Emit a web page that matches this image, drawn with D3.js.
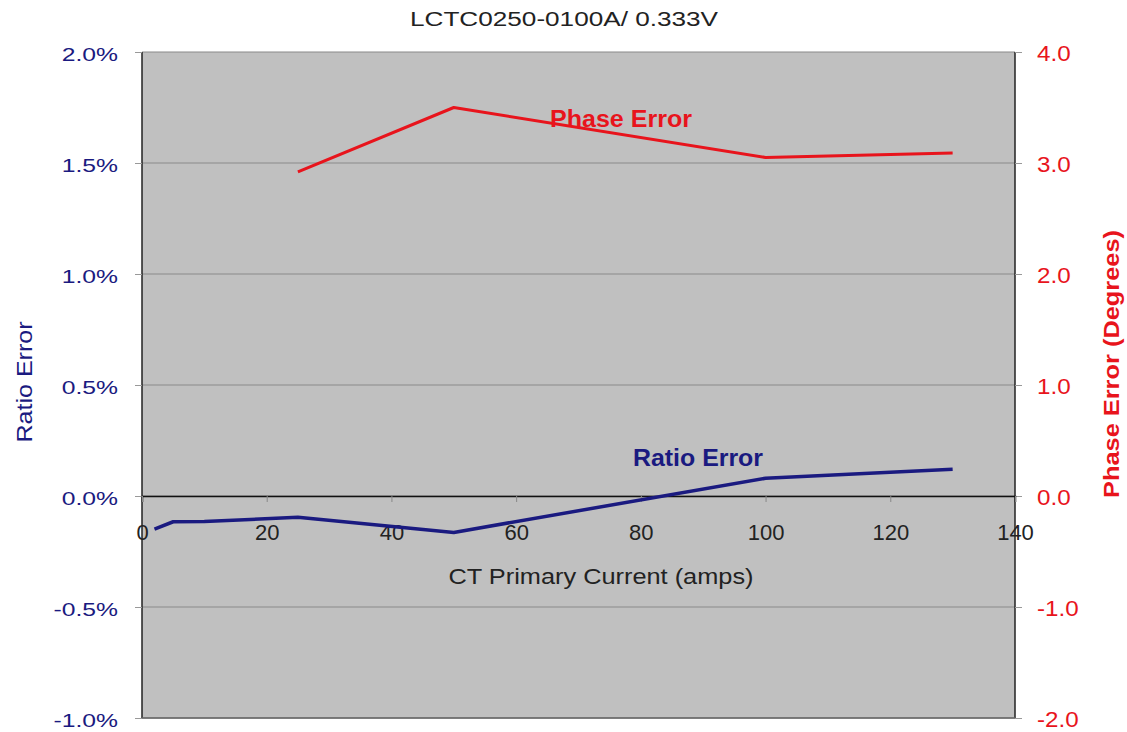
<!DOCTYPE html>
<html><head><meta charset="utf-8">
<script src="https://cdn.jsdelivr.net/npm/d3@7"></script>
<style>body{margin:0;background:#fff;} svg{display:block;font-family:"Liberation Sans",Arial,sans-serif;}</style>
</head><body>
<svg id="c" width="1127" height="732"></svg>
<script>
const title = "LCTC0250-0100A/ 0.333V";
const ratioX = [2, 5, 10, 25, 50, 100, 130];
const ratioY = [-0.149, -0.116, -0.115, -0.096, -0.164, 0.080, 0.120];
const phaseX = [25, 50, 100, 130];
const phaseY = [2.92, 3.50, 3.05, 3.09];
const xTicks = [0, 20, 40, 60, 80, 100, 120, 140];
const leftTicks = [-1.0, -0.5, 0.0, 0.5, 1.0, 1.5, 2.0];
const rightTicks = [-2, -1, 0, 1, 2, 3, 4];

const FF = "Liberation Sans, Arial, sans-serif";
const svg = d3.select("#c");
const L = 142, R = 1015, T = 52, B = 718;
const x = d3.scaleLinear().domain([0, 140]).range([L, R]);
const yL = d3.scaleLinear().domain([-1, 2]).range([B, T]);
const yR = d3.scaleLinear().domain([-2, 4]).range([B, T]);
const navy = "#1a1a80", red = "#e8141c";

function stretch(sel, f) {
  sel.each(function () {
    const w = this.getComputedTextLength();
    d3.select(this).attr("textLength", w * f).attr("lengthAdjust", "spacingAndGlyphs");
  });
}
function fit(sel, w) {
  sel.attr("textLength", w).attr("lengthAdjust", "spacingAndGlyphs");
}

svg.append("rect").attr("x", L).attr("y", T).attr("width", R - L).attr("height", B - T).attr("fill", "#c0c0c0");
// gridlines
svg.append("g").selectAll("line").data(leftTicks).join("line")
  .attr("x1", L).attr("x2", R).attr("y1", d => yL(d)).attr("y2", d => yL(d))
  .attr("stroke", "#8a8a8a").attr("stroke-width", 1.2);
// border
svg.append("line").attr("x1", L).attr("x2", L).attr("y1", T).attr("y2", B).attr("stroke", "#222").attr("stroke-width", 1.5);
svg.append("line").attr("x1", R).attr("x2", R).attr("y1", T).attr("y2", B).attr("stroke", "#222").attr("stroke-width", 1.5);
svg.append("line").attr("x1", L).attr("x2", R).attr("y1", B).attr("y2", B).attr("stroke", "#666").attr("stroke-width", 1.5);

// left axis
const la = svg.append("g").attr("transform", `translate(${L},0)`)
  .call(d3.axisLeft(yL).tickValues(leftTicks).tickSize(7).tickPadding(17).tickFormat(d => d.toFixed(1) + "%"));
la.select(".domain").remove();
la.selectAll("line").attr("stroke", "#999");
la.selectAll("text").attr("fill", navy).attr("font-size", 19).attr("font-family", FF).attr("dy", "0.44em");
stretch(la.selectAll("text"), 1.3);

// right axis
const ra = svg.append("g").attr("transform", `translate(${R},0)`)
  .call(d3.axisRight(yR).tickValues(rightTicks).tickSize(7).tickPadding(15).tickFormat(d => d.toFixed(1)));
ra.select(".domain").remove();
ra.selectAll("line").attr("stroke", "#999");
ra.selectAll("text").attr("fill", red).attr("font-size", 22).attr("font-family", FF).attr("dy", "0.4em");
stretch(ra.selectAll("text"), 1.1);

// x axis at zero
const xa = svg.append("g").attr("transform", `translate(0,${yL(0)})`)
  .call(d3.axisBottom(x).tickValues(xTicks).tickSize(6).tickPadding(22));
xa.select(".domain").attr("stroke", "#111").attr("stroke-width", 1.5);
xa.selectAll("line").attr("stroke", "#888");
xa.selectAll("text").attr("fill", "#222").attr("font-size", 22).attr("font-family", FF);

// lines
const lineR = d3.line().x(d => x(d[0])).y(d => yL(d[1]));
svg.append("path").datum(ratioX.map((v, i) => [v, ratioY[i]])).attr("d", lineR)
  .attr("fill", "none").attr("stroke", navy).attr("stroke-width", 3.5).attr("stroke-linejoin", "round");
const lineP = d3.line().x(d => x(d[0])).y(d => yR(d[1]));
svg.append("path").datum(phaseX.map((v, i) => [v, phaseY[i]])).attr("d", lineP)
  .attr("fill", "none").attr("stroke", red).attr("stroke-width", 3).attr("stroke-linejoin", "round");

// labels
svg.append("text").attr("x", 621).attr("y", 127).attr("text-anchor", "middle").attr("fill", red)
  .attr("font-weight", "bold").attr("font-size", 23).text("Phase Error").call(fit, 142);
svg.append("text").attr("x", 698).attr("y", 466).attr("text-anchor", "middle").attr("fill", navy)
  .attr("font-weight", "bold").attr("font-size", 23).text("Ratio Error").call(fit, 130);

svg.append("text").attr("x", 564).attr("y", 26).attr("text-anchor", "middle").attr("fill", "#222")
  .attr("font-size", 20).text(title).call(fit, 308);
svg.append("text").attr("x", 601).attr("y", 584).attr("text-anchor", "middle").attr("fill", "#222")
  .attr("font-size", 22).text("CT Primary Current (amps)").call(fit, 305);
svg.append("text").attr("transform", "translate(32,382) rotate(-90)").attr("text-anchor", "middle")
  .attr("fill", navy).attr("font-size", 22).text("Ratio Error").call(fit, 121);
svg.append("text").attr("transform", "translate(1119,364) rotate(-90)").attr("text-anchor", "middle")
  .attr("fill", red).attr("font-weight", "bold").attr("font-size", 22).text("Phase Error (Degrees)").call(fit, 268);
</script>
</body></html>
